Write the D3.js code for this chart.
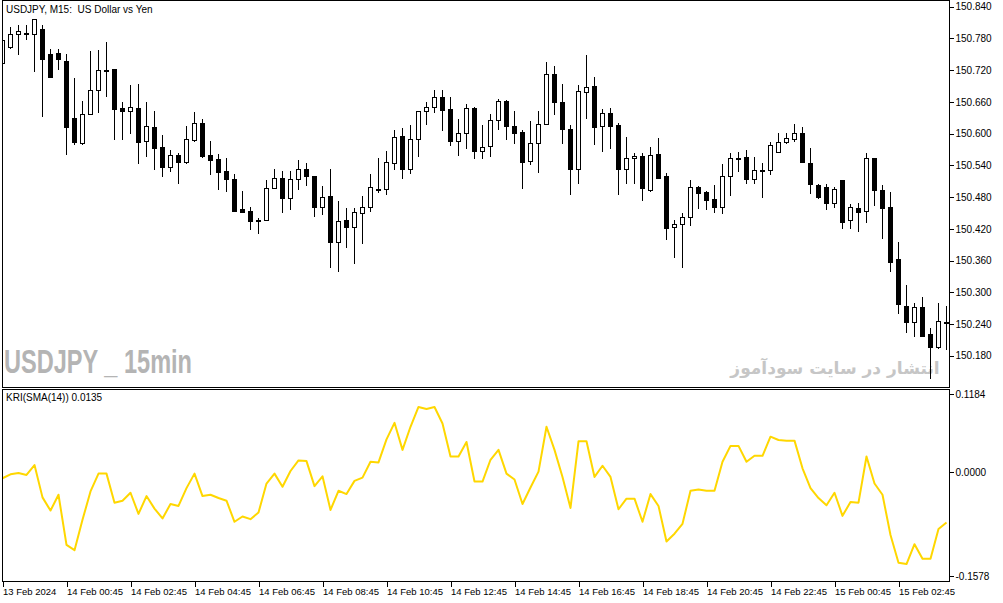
<!DOCTYPE html>
<html>
<head>
<meta charset="utf-8">
<script src="https://cdn.jsdelivr.net/npm/d3@7"></script>
<style>
  body { margin: 0; background: #fff; }
  svg text { font-family: "Liberation Sans", Arial, sans-serif; fill: #000; }
</style>
</head>
<body>
<svg id="chart" width="1003" height="603"></svg>
<script>
// USDJPY M15 candles, 13 Feb 22:45 .. 15 Feb 04:15
var opens = [150.734,150.764,150.788,150.791,150.788,150.797,150.750,150.752,150.737,150.630,
  150.583,150.638,150.683,150.721,150.722,150.648,150.643,150.648,150.586,150.613,
  150.575,150.536,150.560,150.547,150.588,150.620,150.560,150.552,150.529,150.514,
  150.457,150.454,150.437,150.437,150.497,150.517,150.479,150.514,150.533,150.520,
  150.462,150.482,150.396,150.436,150.423,150.449,150.461,150.496,150.495,150.544,
  150.595,150.534,150.589,150.642,150.650,150.669,150.646,150.587,150.601,150.648,
  150.568,150.576,150.625,150.661,150.614,150.603,150.548,150.582,150.618,150.712,
  150.659,150.608,150.533,150.678,150.690,150.614,150.639,150.616,150.534,150.553,
  150.558,150.493,150.562,150.520,150.423,150.429,150.442,150.499,150.490,150.476,
  150.462,150.520,150.554,150.555,150.515,150.531,150.531,150.565,150.584,150.589,
  150.601,150.544,150.502,150.500,150.468,150.512,150.436,150.459,150.453,150.553,
  150.493,150.461,150.362,150.275,150.243,150.272,150.221,150.197,150.244];
var highs = [150.785,150.801,150.805,150.805,150.816,150.806,150.760,150.760,150.751,150.705,
  150.662,150.756,150.758,150.773,150.722,150.660,150.692,150.694,150.660,150.643,
  150.597,150.569,150.563,150.614,150.641,150.628,150.586,150.562,150.553,150.524,
  150.492,150.461,150.440,150.512,150.533,150.530,150.530,150.550,150.545,150.520,
  150.501,150.533,150.473,150.459,150.459,150.482,150.524,150.554,150.567,150.606,
  150.610,150.616,150.642,150.660,150.683,150.683,150.669,150.628,150.656,150.650,
  150.616,150.637,150.665,150.663,150.643,150.606,150.624,150.643,150.735,150.728,
  150.694,150.616,150.692,150.749,150.707,150.646,150.648,150.621,150.594,150.563,
  150.564,150.574,150.591,150.525,150.437,150.449,150.512,150.501,150.492,150.503,
  150.542,150.564,150.565,150.569,150.555,150.544,150.584,150.601,150.601,150.618,
  150.612,150.572,150.504,150.505,150.499,150.512,150.467,150.468,150.563,150.553,
  150.502,150.489,150.396,150.314,150.279,150.291,150.232,150.280,150.274];
var lows = [150.730,150.761,150.750,150.778,150.719,150.634,150.708,150.723,150.562,150.580,
  150.580,150.638,150.640,150.672,150.589,150.590,150.602,150.545,150.558,150.534,
  150.519,150.530,150.506,150.545,150.586,150.556,150.524,150.496,150.492,150.453,
  150.452,150.420,150.413,150.437,150.497,150.451,150.458,150.496,150.503,150.445,
  150.448,150.347,150.340,150.386,150.355,150.394,150.454,150.490,150.486,150.533,
  150.517,150.526,150.558,150.619,150.640,150.606,150.579,150.560,150.573,150.553,
  150.553,150.558,150.609,150.590,150.583,150.497,150.542,150.528,150.618,150.638,
  150.583,150.486,150.507,150.630,150.581,150.568,150.573,150.486,150.507,150.507,
  150.475,150.492,150.517,150.400,150.367,150.347,150.427,150.460,150.458,150.451,
  150.449,150.484,150.529,150.507,150.507,150.481,150.524,150.565,150.582,150.587,
  150.546,150.488,150.479,150.457,150.461,150.421,150.421,150.416,150.432,150.465,
  150.403,150.341,150.260,150.224,150.218,150.218,150.137,150.195,150.193];
var closes = [150.777,150.788,150.795,150.791,150.816,150.742,150.708,150.741,150.613,150.585,
  150.638,150.683,150.720,150.720,150.646,150.643,150.650,150.585,150.614,150.573,
  150.536,150.559,150.547,150.589,150.620,150.558,150.550,150.528,150.514,150.454,
  150.452,150.435,150.437,150.497,150.517,150.479,150.514,150.533,150.519,150.462,
  150.480,150.396,150.434,150.423,150.451,150.461,150.499,150.496,150.546,150.593,
  150.533,150.589,150.642,150.650,150.669,150.645,150.587,150.601,150.648,150.568,
  150.574,150.625,150.661,150.614,150.602,150.547,150.582,150.618,150.712,150.659,
  150.609,150.533,150.680,150.689,150.613,150.639,150.615,150.534,150.553,150.558,
  150.498,150.560,150.517,150.422,150.429,150.442,150.500,150.488,150.475,150.462,
  150.519,150.553,150.554,150.515,150.531,150.531,150.579,150.584,150.591,150.601,
  150.546,150.504,150.480,150.468,150.495,150.433,150.461,150.451,150.553,150.493,
  150.460,150.358,150.277,150.243,150.272,150.218,150.197,150.245,150.244];

// KRI(SMA(14)) values, one per bar
var kri = [-0.009,-0.003,-0.001,-0.004,0.011,-0.038,-0.058,-0.034,-0.110,-0.118,
  -0.072,-0.029,-0.002,-0.002,-0.046,-0.043,-0.031,-0.063,-0.036,-0.055,
  -0.070,-0.048,-0.051,-0.024,-0.002,-0.036,-0.034,-0.039,-0.043,-0.075,
  -0.067,-0.071,-0.061,-0.017,-0.002,-0.022,0.002,0.018,0.017,-0.021,
  -0.006,-0.057,-0.028,-0.033,-0.013,-0.008,0.016,0.015,0.050,0.075,
  0.034,0.069,0.099,0.096,0.099,0.074,0.024,0.024,0.046,-0.014,
  -0.014,0.019,0.034,-0.002,-0.011,-0.048,-0.023,0.001,0.069,0.034,
  -0.007,-0.054,0.047,0.047,-0.007,0.010,-0.007,-0.056,-0.040,-0.040,
  -0.075,-0.033,-0.051,-0.105,-0.093,-0.078,-0.028,-0.026,-0.028,-0.028,
  0.016,0.040,0.040,0.016,0.025,0.025,0.054,0.049,0.048,0.048,
  0.006,-0.024,-0.039,-0.050,-0.031,-0.066,-0.045,-0.046,0.024,-0.017,
  -0.034,-0.095,-0.137,-0.139,-0.109,-0.131,-0.131,-0.086,-0.076];

var priceTicks = [150.840,150.780,150.720,150.660,150.600,150.540,150.480,150.420,150.360,150.300,150.240,150.180];
var kriTicks = [0.1184, 0, -0.1578];
var kriTickLabels = ["0.1184", "0.0000", "-0.1578"];
var timeTickIdx = [0,8,16,24,32,40,48,56,64,72,80,88,96,104,112];
var timeLabels = ["13 Feb 2024","14 Feb 00:45","14 Feb 02:45","14 Feb 04:45","14 Feb 06:45",
  "14 Feb 08:45","14 Feb 10:45","14 Feb 12:45","14 Feb 14:45","14 Feb 16:45","14 Feb 18:45",
  "14 Feb 20:45","14 Feb 22:45","15 Feb 00:45","15 Feb 02:45"];

var svg = d3.select("#chart");
var left = 2.5, right = 949.5;
var mainTop = 0.5, mainBottom = 387.5;
var indTop = 389.5, indBottom = 581.5;

var x = d3.scaleLinear().domain([0, opens.length - 1]).range([2.5, 2.5 + 8 * (opens.length - 1)]);
var y = d3.scaleLinear().domain([150.1209, 150.8489]).range([387, 2]);
var ky = d3.scaleLinear().domain([-0.1658, 0.1258]).range([581.7, 389.3]);

svg.append("defs").append("clipPath").attr("id", "mainClip")
   .append("rect").attr("x", left).attr("y", mainTop).attr("width", right - left).attr("height", mainBottom - mainTop);
svg.select("defs").append("clipPath").attr("id", "indClip")
   .append("rect").attr("x", left).attr("y", indTop).attr("width", right - left).attr("height", indBottom - indTop);

// watermarks
svg.append("text")
   .attr("x", 4).attr("y", 373)
   .attr("textLength", 188).attr("lengthAdjust", "spacingAndGlyphs")
   .style("font-family", "'Liberation Sans',Arial,sans-serif")
   .style("font-weight", "bold").style("font-size", "33px").style("fill", "#b4b4b4")
   .style("white-space", "pre")
   .text("USDJPY _ 15min");
svg.append("text")
   .attr("x", 835).attr("y", 374)
   .attr("text-anchor", "middle")
   .style("font-family", "'DejaVu Sans',sans-serif")
   .style("font-weight", "bold").style("font-size", "17px").style("fill", "#c6c6c6")
   .text("انتشار در سایت سودآموز");

// candles
var candles = svg.append("g").attr("clip-path", "url(#mainClip)")
   .selectAll("g").data(opens).enter().append("g");

candles.append("line")
   .attr("x1", function(d, i) { return x(i); })
   .attr("x2", function(d, i) { return x(i); })
   .attr("y1", function(d, i) { return Math.round(y(highs[i])); })
   .attr("y2", function(d, i) { return Math.round(y(lows[i])) + 1; })
   .attr("stroke", "#000").attr("stroke-width", 1)
   .attr("shape-rendering", "crispEdges");

candles.append("rect")
   .attr("x", function(d, i) { return x(i) - 2; })
   .attr("y", function(d, i) { return Math.round(Math.min(y(opens[i]), y(closes[i]))) + 0.5; })
   .attr("width", 4)
   .attr("height", function(d, i) {
       var h = Math.round(Math.max(y(opens[i]), y(closes[i]))) - Math.round(Math.min(y(opens[i]), y(closes[i])));
       return Math.max(h, 1);
   })
   .attr("fill", function(d, i) { return closes[i] > opens[i] ? "#fff" : "#000"; })
   .attr("stroke", "#000").attr("stroke-width", 1)
   .attr("shape-rendering", "crispEdges");

// KRI line
var line = d3.line()
   .x(function(d, i) { return x(i); })
   .y(function(d) { return ky(d); });
svg.append("g").attr("clip-path", "url(#indClip)")
   .append("path").datum(kri)
   .attr("d", line)
   .attr("fill", "none").attr("stroke", "#ffd700").attr("stroke-width", 2)
   .attr("stroke-linejoin", "round");

// frames
svg.append("rect").attr("x", left).attr("y", mainTop).attr("width", right - left).attr("height", mainBottom - mainTop)
   .attr("fill", "none").attr("stroke", "#000").attr("shape-rendering", "crispEdges");
svg.append("rect").attr("x", left).attr("y", indTop).attr("width", right - left).attr("height", indBottom - indTop)
   .attr("fill", "none").attr("stroke", "#000").attr("shape-rendering", "crispEdges");

// price axis
var pAxis = svg.append("g").attr("transform", "translate(" + right + ",0)")
   .call(d3.axisRight(y).tickValues(priceTicks).tickSize(4).tickFormat(d3.format(".3f")));
pAxis.select(".domain").remove();
pAxis.selectAll("line").attr("shape-rendering", "crispEdges");
pAxis.selectAll("text").attr("x", 6).style("font-size", "10px").style("font-family", "'Liberation Sans',Arial,sans-serif");

// indicator axis
var kAxis = svg.append("g").attr("transform", "translate(" + right + ",0)")
   .call(d3.axisRight(ky).tickValues(kriTicks).tickSize(4)
         .tickFormat(function(d, i) { return kriTickLabels[i]; }));
kAxis.select(".domain").remove();
kAxis.selectAll("line").attr("shape-rendering", "crispEdges");
kAxis.selectAll("text").attr("x", 6).style("font-size", "10px").style("font-family", "'Liberation Sans',Arial,sans-serif");

// time axis
var tAxis = svg.append("g").attr("transform", "translate(0," + indBottom + ")")
   .call(d3.axisBottom(x).tickValues(timeTickIdx).tickSize(5)
         .tickFormat(function(d, i) { return timeLabels[i]; }));
tAxis.select(".domain").remove();
tAxis.selectAll("line").attr("shape-rendering", "crispEdges");
tAxis.selectAll("text").attr("text-anchor", "start").attr("x", 0).attr("y", 7)
   .style("font-size", "9.5px").style("font-family", "'Liberation Sans',Arial,sans-serif");

// titles
svg.append("text").attr("x", 6).attr("y", 13).style("font-size", "10px")
   .style("white-space", "pre")
   .text("USDJPY, M15:  US Dollar vs Yen");
svg.append("text").attr("x", 6).attr("y", 401).style("font-size", "10px")
   .text("KRI(SMA(14)) 0.0135");
</script>
</body>
</html>
